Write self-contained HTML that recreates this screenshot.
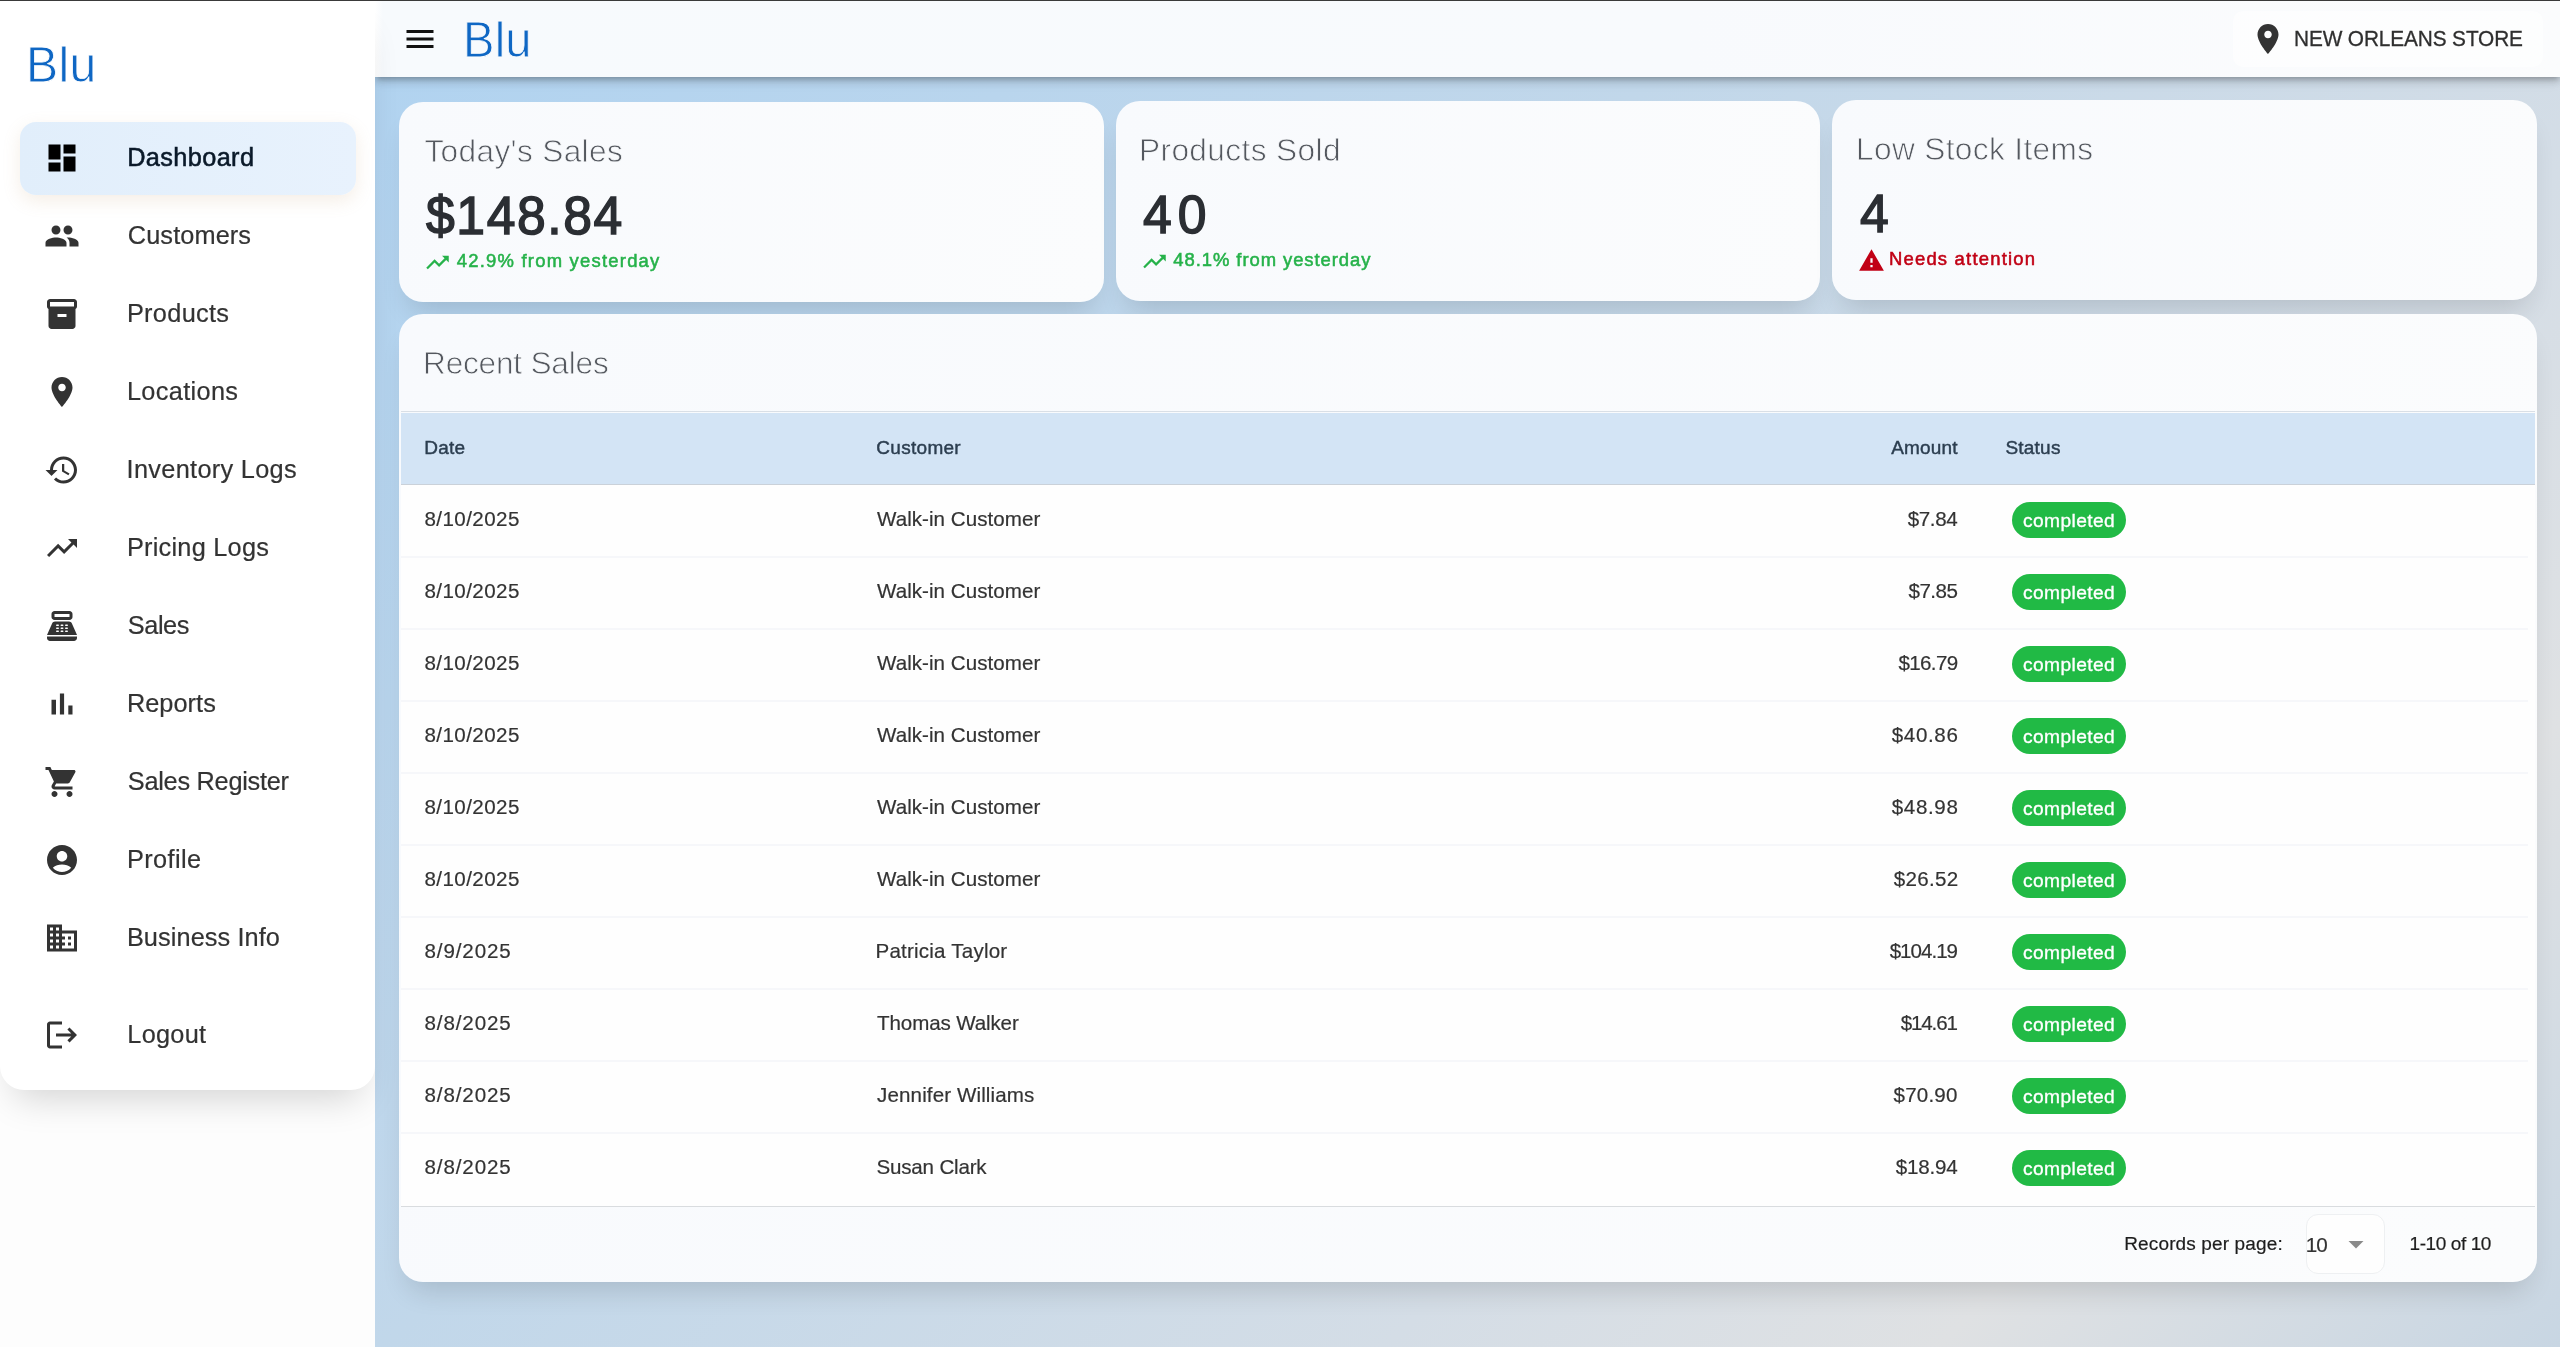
<!DOCTYPE html>
<html lang="en"><head><meta charset="utf-8"><title>Blu - Dashboard</title>
<style>
html,body{margin:0;padding:0}
body{width:2560px;height:1347px;overflow:hidden;position:relative;background:#fdfdfd;font-family:"Liberation Sans", sans-serif;}
.t{position:absolute;white-space:nowrap;line-height:1;font-family:"Liberation Sans", sans-serif;transform-origin:0 0;}
.i{position:absolute;display:block}
#txt{position:absolute;left:0;top:0;width:2560px;height:1347px;will-change:transform;}
.abs{position:absolute}
#main{left:375px;top:77px;width:2185px;height:1270px;background:linear-gradient(135deg,#b1d3f0 0%,#c1d7ea 37%,#d4dde6 66%,#dfe1e3 82%,#c8d6e3 100%);}
#appbar{left:375px;top:1px;width:2185px;height:76px;background:linear-gradient(90deg,#ffffff 0,#f7fafd 8px,#f8fafd 60%,#fbfcfd 100%);box-shadow:0 3px 5px -1.5px rgba(0,0,0,.2),0 5px 7px rgba(0,0,0,.12),0 1.5px 14px rgba(0,0,0,.10);}
#topline{left:0;top:0;width:2560px;height:1px;background:#3a3a3a;}
#side{left:0;top:1px;width:375px;height:1089px;background:#ffffff;border-radius:0 0 24px 24px;box-shadow:0 22px 36px -14px rgba(0,0,0,.17);}
#sel{left:20px;top:122px;width:335.5px;height:72.5px;border-radius:16px;background:linear-gradient(90deg,#e1eefb,#e8f2fd);box-shadow:0 6px 18px rgba(190,150,100,.16);}
#storebtn{left:2233px;top:11px;width:310px;height:56px;border-radius:10px;background:rgba(255,255,255,.55);}
.card{position:absolute;border-radius:24px;background:linear-gradient(100deg,#f8fafd,#fbfcfd);box-shadow:0 18px 28px -10px rgba(0,0,0,.14);}
#c1{left:399px;top:102px;width:705px;height:200px}
#c2{left:1116px;top:101px;width:704px;height:200px}
#c3{left:1832px;top:100px;width:705px;height:200px}
#rs{left:399px;top:314px;width:2138px;height:968px}
#thead{left:401px;top:413px;width:2134px;height:71px;background:#d3e4f5;}
#theadline{left:401px;top:411px;width:2134px;height:1px;background:#d9dfe6;}
#tbody{left:401px;top:484.5px;width:2134px;height:721px;background:#fefefe;}
#theadb{left:401px;top:484px;width:2134px;height:1px;background:#cad1d9;}
.sep{position:absolute;left:401px;width:2127px;height:1.5px;background:#f6f7fa}
#tfootline{left:401px;top:1205.5px;width:2134px;height:1px;background:#d9dcdf;}
.chip{position:absolute;left:2012px;width:114px;height:36px;border-radius:18px;background:#21ba45}
#sel10{left:2305.5px;top:1213.5px;width:79px;height:60px;border-radius:12px;background:#fefefe;border:1px solid #eef0f2;box-sizing:border-box}
</style></head><body>
<div class="abs" id="main"></div>
<div class="card" id="c1"></div><div class="card" id="c2"></div><div class="card" id="c3"></div>
<div class="card" id="rs"></div>
<div class="abs" id="theadline"></div><div class="abs" id="thead"></div><div class="abs" id="tbody"></div><div class="abs" id="theadb"></div>
<div class="sep" style="top:556px"></div><div class="sep" style="top:628px"></div><div class="sep" style="top:700px"></div><div class="sep" style="top:772px"></div><div class="sep" style="top:844px"></div><div class="sep" style="top:916px"></div><div class="sep" style="top:988px"></div><div class="sep" style="top:1060px"></div><div class="sep" style="top:1132px"></div>
<div class="abs" id="tfootline"></div>
<div class="chip" style="top:502px"></div><div class="chip" style="top:574px"></div><div class="chip" style="top:646px"></div><div class="chip" style="top:718px"></div><div class="chip" style="top:790px"></div><div class="chip" style="top:862px"></div><div class="chip" style="top:934px"></div><div class="chip" style="top:1006px"></div><div class="chip" style="top:1078px"></div><div class="chip" style="top:1150px"></div>
<div class="abs" id="sel10"></div>
<div class="abs" id="appbar"></div>
<div class="abs" id="storebtn"></div>
<div class="abs" id="side"></div>
<div class="abs" id="sel"></div>
<div class="abs" id="topline"></div>
<svg class="i" style="left:44.00px;top:140.00px;width:36px;height:36px" viewBox="0 0 24 24"><path fill="#000000" d="M3 13h8V3H3v10zm0 8h8v-6H3v6zm10 0h8V11h-8v10zm0-18v6h8V3h-8z"/></svg><svg class="i" style="left:44.00px;top:218.00px;width:36px;height:36px" viewBox="0 0 24 24"><path fill="#333333" d="M16 11c1.66 0 2.99-1.34 2.99-3S17.66 5 16 5c-1.66 0-3 1.34-3 3s1.34 3 3 3zm-8 0c1.66 0 2.99-1.34 2.99-3S9.66 5 8 5C6.34 5 5 6.34 5 8s1.34 3 3 3zm0 2c-2.33 0-7 1.17-7 3.5V19h14v-2.5c0-2.33-4.67-3.5-7-3.5zm8 0c-.29 0-.62.02-.97.05 1.16.84 1.97 1.97 1.97 3.45V19h6v-2.5c0-2.33-4.67-3.5-7-3.5z"/></svg><svg class="i" style="left:44.00px;top:296.00px;width:36px;height:36px" viewBox="0 0 24 24"><path fill="#333333" d="M20 2H4c-1 0-2 .9-2 2v3.01c0 .72.43 1.34 1 1.69V20c0 1.1 1.1 2 2 2h14c.9 0 2-.9 2-2V8.7c.57-.35 1-.97 1-1.69V4c0-1.1-1-2-2-2zm-5 12H9v-2h6v2zm5-7H4V4h16v3z"/></svg><svg class="i" style="left:44.00px;top:374.00px;width:36px;height:36px" viewBox="0 0 24 24"><path fill="#333333" d="M12 2C8.13 2 5 5.13 5 9c0 5.25 7 13 7 13s7-7.75 7-13c0-3.87-3.13-7-7-7zm0 9.5c-1.38 0-2.5-1.12-2.5-2.5s1.12-2.5 2.5-2.5 2.5 1.12 2.5 2.5-1.12 2.5-2.5 2.5z"/></svg><svg class="i" style="left:44.00px;top:452.00px;width:36px;height:36px" viewBox="0 0 24 24"><path fill="#333333" d="M13 3c-4.97 0-9 4.03-9 9H1l3.89 3.89.07.14L9 12H6c0-3.87 3.13-7 7-7s7 3.13 7 7-3.13 7-7 7c-1.93 0-3.68-.79-4.94-2.06l-1.42 1.42C8.27 19.99 10.51 21 13 21c4.97 0 9-4.03 9-9s-4.03-9-9-9zm-1 5v5l4.28 2.54.72-1.21-3.5-2.08V8H12z"/></svg><svg class="i" style="left:44.00px;top:530.00px;width:36px;height:36px" viewBox="0 0 24 24"><path fill="#333333" d="M16 6l2.29 2.29-4.88 4.88-4-4L2 16.59 3.41 18l6-6 4 4 6.3-6.29L22 12V6z"/></svg><svg class="i" style="left:44.00px;top:608.00px;width:36px;height:36px" viewBox="0 0 24 24"><path fill="#333333" d="M17 2H7c-1.1 0-2 .9-2 2v2c0 1.1.9 2 2 2h10c1.1 0 2-.9 2-2V4c0-1.1-.9-2-2-2zm0 4H7V4h10v2zm3 16H4c-1.1 0-2-.9-2-2v-1h20v1c0 1.1-.9 2-2 2zm-1.47-11.81C18.21 9.47 17.49 9 16.7 9H7.3c-.79 0-1.51.47-1.83 1.19L2 18h20l-3.47-7.81zM9.5 16h-1c-.28 0-.5-.22-.5-.5s.22-.5.5-.5h1c.28 0 .5.22.5.5s-.22.5-.5.5zm0-2h-1c-.28 0-.5-.22-.5-.5s.22-.5.5-.5h1c.28 0 .5.22.5.5s-.22.5-.5.5zm0-2h-1c-.28 0-.5-.22-.5-.5s.22-.5.5-.5h1c.28 0 .5.22.5.5s-.22.5-.5.5zm3 4h-1c-.28 0-.5-.22-.5-.5s.22-.5.5-.5h1c.28 0 .5.22.5.5s-.22.5-.5.5zm0-2h-1c-.28 0-.5-.22-.5-.5s.22-.5.5-.5h1c.28 0 .5.22.5.5s-.22.5-.5.5zm0-2h-1c-.28 0-.5-.22-.5-.5s.22-.5.5-.5h1c.28 0 .5.22.5.5s-.22.5-.5.5zm3 4h-1c-.28 0-.5-.22-.5-.5s.22-.5.5-.5h1c.28 0 .5.22.5.5s-.22.5-.5.5zm0-2h-1c-.28 0-.5-.22-.5-.5s.22-.5.5-.5h1c.28 0 .5.22.5.5s-.22.5-.5.5zm0-2h-1c-.28 0-.5-.22-.5-.5s.22-.5.5-.5h1c.28 0 .5.22.5.5s-.22.5-.5.5z"/></svg><svg class="i" style="left:44.00px;top:686.00px;width:36px;height:36px" viewBox="0 0 24 24"><path fill="#333333" d="M5 9.2h3V19H5zM10.6 5h2.8v14h-2.8zm5.6 8H19v6h-2.8z"/></svg><svg class="i" style="left:44.00px;top:764.00px;width:36px;height:36px" viewBox="0 0 24 24"><path fill="#333333" d="M7 18c-1.1 0-1.99.9-1.99 2S5.9 22 7 22s2-.9 2-2-.9-2-2-2zM1 2v2h2l3.6 7.59-1.35 2.45c-.16.28-.25.61-.25.96 0 1.1.9 2 2 2h12v-2H7.42c-.14 0-.25-.11-.25-.25l.03-.12.9-1.63h7.45c.75 0 1.41-.41 1.75-1.03l3.58-6.49c.08-.14.12-.31.12-.48 0-.55-.45-1-1-1H5.21l-.94-2H1zm16 16c-1.1 0-1.99.9-1.99 2s.89 2 1.99 2 2-.9 2-2-.9-2-2-2z"/></svg><svg class="i" style="left:44.00px;top:842.00px;width:36px;height:36px" viewBox="0 0 24 24"><path fill="#333333" d="M12 2C6.48 2 2 6.48 2 12s4.48 10 10 10 10-4.48 10-10S17.52 2 12 2zm0 4c1.93 0 3.5 1.57 3.5 3.5S13.93 13 12 13s-3.5-1.57-3.5-3.5S10.07 6 12 6zm0 14c-2.03 0-4.43-.82-6.14-2.88C7.55 15.8 9.68 15 12 15s4.45.8 6.14 2.12C16.43 19.18 14.03 20 12 20z"/></svg><svg class="i" style="left:44.00px;top:920.00px;width:36px;height:36px" viewBox="0 0 24 24"><path fill="#333333" d="M12 7V3H2v18h20V7H12zM6 19H4v-2h2v2zm0-4H4v-2h2v2zm0-4H4V9h2v2zm0-4H4V5h2v2zm4 12H8v-2h2v2zm0-4H8v-2h2v2zm0-4H8V9h2v2zm0-4H8V5h2v2zm10 12h-8v-2h2v-2h-2v-2h2v-2h-2V9h8v10zm-2-8h-2v2h2v-2zm0 4h-2v2h2v-2z"/></svg><svg class="i" style="left:44.00px;top:1017.00px;width:36px;height:36px" viewBox="0 0 24 24"><path fill="#333333" d="M17 7l-1.41 1.41L18.17 11H8v2h10.17l-2.58 2.58L17 17l5-5zM4 5h8V3H4c-1.1 0-2 .9-2 2v14c0 1.1.9 2 2 2h8v-2H4V5z"/></svg><svg class="i" style="left:401.50px;top:21.00px;width:36px;height:36px" viewBox="0 0 24 24"><path fill="#111111" d="M3 18h18v-2H3v2zm0-5h18v-2H3v2zm0-7v2h18V6H3z"/></svg><svg class="i" style="left:2249.70px;top:20.90px;width:36px;height:36px" viewBox="0 0 24 24"><path fill="#333333" d="M12 2C8.13 2 5 5.13 5 9c0 5.25 7 13 7 13s7-7.75 7-13c0-3.87-3.13-7-7-7zm0 9.5c-1.38 0-2.5-1.12-2.5-2.5s1.12-2.5 2.5-2.5 2.5 1.12 2.5 2.5-1.12 2.5-2.5 2.5z"/></svg><svg class="i" style="left:424.00px;top:248.80px;width:27px;height:27px" viewBox="0 0 24 24"><path fill="#26b24a" d="M16 6l2.29 2.29-4.88 4.88-4-4L2 16.59 3.41 18l6-6 4 4 6.3-6.29L22 12V6z"/></svg><svg class="i" style="left:1140.80px;top:247.80px;width:27px;height:27px" viewBox="0 0 24 24"><path fill="#26b24a" d="M16 6l2.29 2.29-4.88 4.88-4-4L2 16.59 3.41 18l6-6 4 4 6.3-6.29L22 12V6z"/></svg><svg class="i" style="left:1857.50px;top:246.80px;width:27px;height:27px" viewBox="0 0 24 24"><path fill="#c10015" d="M1 21h22L12 2 1 21zm12-3h-2v-2h2v2zm0-4h-2v-4h2v4z"/></svg><svg class="i" style="left:2337.70px;top:1225.60px;width:36px;height:36px" viewBox="0 0 24 24"><path fill="#8a8a8a" d="M7 10l5 5 5-5z"/></svg>
<div id="txt">
<span class="t" id="sb_blu" style="left:25.50px;top:40.03px;font-size:50.64px;color:#0f67c4;letter-spacing:0.395px;-webkit-text-stroke:0.8px #ffffff;transform:scaleX(0.95);">Blu</span>
<span class="t" id="nav0" style="left:127.20px;top:145.08px;font-size:25.32px;color:#0a1929;letter-spacing:0.371px;-webkit-text-stroke:0.55px #0a1929;">Dashboard</span>
<span class="t" id="nav1" style="left:127.80px;top:222.93px;font-size:25.32px;color:#333333;letter-spacing:0.105px;-webkit-text-stroke:0.2px #333333;">Customers</span>
<span class="t" id="nav2" style="left:126.90px;top:300.93px;font-size:25.32px;color:#333333;letter-spacing:0.317px;-webkit-text-stroke:0.2px #333333;">Products</span>
<span class="t" id="nav3" style="left:126.90px;top:378.93px;font-size:25.32px;color:#333333;letter-spacing:0.345px;-webkit-text-stroke:0.2px #333333;">Locations</span>
<span class="t" id="nav4" style="left:126.60px;top:456.93px;font-size:25.32px;color:#333333;letter-spacing:0.307px;-webkit-text-stroke:0.2px #333333;">Inventory Logs</span>
<span class="t" id="nav5" style="left:126.90px;top:534.93px;font-size:25.32px;color:#333333;letter-spacing:0.245px;-webkit-text-stroke:0.2px #333333;">Pricing Logs</span>
<span class="t" id="nav6" style="left:127.80px;top:612.93px;font-size:25.32px;color:#333333;letter-spacing:-0.427px;-webkit-text-stroke:0.2px #333333;">Sales</span>
<span class="t" id="nav7" style="left:126.90px;top:690.93px;font-size:25.32px;color:#333333;letter-spacing:0.050px;-webkit-text-stroke:0.2px #333333;">Reports</span>
<span class="t" id="nav8" style="left:127.80px;top:768.93px;font-size:25.32px;color:#333333;letter-spacing:-0.265px;-webkit-text-stroke:0.2px #333333;">Sales Register</span>
<span class="t" id="nav9" style="left:126.90px;top:846.93px;font-size:25.32px;color:#333333;letter-spacing:0.400px;-webkit-text-stroke:0.2px #333333;">Profile</span>
<span class="t" id="nav10" style="left:126.90px;top:924.93px;font-size:25.32px;color:#333333;letter-spacing:0.085px;-webkit-text-stroke:0.2px #333333;">Business Info</span>
<span class="t" id="nav_logout" style="left:127.29px;top:1022.23px;font-size:25.32px;color:#333333;letter-spacing:0.270px;-webkit-text-stroke:0.2px #333333;">Logout</span>
<span class="t" id="ab_blu" style="left:462.50px;top:15.91px;font-size:49.58px;color:#0f67c4;letter-spacing:0.237px;-webkit-text-stroke:0.8px #f9fbfd;transform:scaleX(0.95);">Blu</span>
<span class="t" id="ab_store" style="left:2293.83px;top:27.98px;font-size:22.15px;color:#2f2f2f;letter-spacing:-0.130px;-webkit-text-stroke:0.3px #2f2f2f;transform:scaleX(0.94);">NEW ORLEANS STORE</span>
<span class="t" id="c1_title" style="left:424.45px;top:135.66px;font-size:31.65px;color:#54585f;letter-spacing:0.338px;-webkit-text-stroke:0.8px #f9fbfd;">Today's Sales</span>
<span class="t" id="c2_title" style="left:1139.00px;top:134.66px;font-size:31.65px;color:#54585f;letter-spacing:0.375px;-webkit-text-stroke:0.8px #f9fbfd;">Products Sold</span>
<span class="t" id="c3_title" style="left:1856.00px;top:133.66px;font-size:31.65px;color:#54585f;letter-spacing:0.354px;-webkit-text-stroke:0.8px #f9fbfd;">Low Stock Items</span>
<span class="t" id="c1_val" style="left:426.48px;top:189.06px;font-size:53.8px;color:#2b2e33;letter-spacing:1.663px;-webkit-text-stroke:1.5px #2b2e33;transform:scaleX(0.96);">$148.84</span>
<span class="t" id="c2_val" style="left:1142.60px;top:188.24px;font-size:53.8px;color:#2b2e33;letter-spacing:6.371px;-webkit-text-stroke:1.5px #2b2e33;transform:scaleX(0.96);">40</span>
<span class="t" id="c3_val" style="left:1859.55px;top:186.89px;font-size:53.8px;color:#2b2e33;letter-spacing:0.000px;-webkit-text-stroke:1.5px #2b2e33;transform:scaleX(0.96);">4</span>
<span class="t" id="c1_sub" style="left:456.72px;top:252.32px;font-size:18.46px;color:#26b24a;letter-spacing:1.224px;-webkit-text-stroke:0.55px #26b24a;">42.9% from yesterday</span>
<span class="t" id="c2_sub" style="left:1173.35px;top:251.32px;font-size:18.46px;color:#26b24a;letter-spacing:0.932px;-webkit-text-stroke:0.55px #26b24a;">48.1% from yesterday</span>
<span class="t" id="c3_sub" style="left:1888.95px;top:250.32px;font-size:18.46px;color:#c10015;letter-spacing:1.211px;-webkit-text-stroke:0.55px #c10015;">Needs attention</span>
<span class="t" id="rs_title" style="left:423.00px;top:348.11px;font-size:31.65px;color:#54585f;letter-spacing:-0.224px;-webkit-text-stroke:0.8px #f9fbfd;">Recent Sales</span>
<span class="t" id="h_date" style="left:424.19px;top:438.44px;font-size:18.99px;color:#2c3e50;letter-spacing:0.280px;-webkit-text-stroke:0.45px #2c3e50;">Date</span>
<span class="t" id="h_cust" style="left:876.36px;top:438.44px;font-size:18.99px;color:#2c3e50;letter-spacing:0.287px;-webkit-text-stroke:0.45px #2c3e50;">Customer</span>
<span class="t" id="h_amt" style="left:1891.30px;top:438.44px;font-size:18.99px;color:#2c3e50;letter-spacing:0.150px;-webkit-text-stroke:0.45px #2c3e50;">Amount</span>
<span class="t" id="h_stat" style="left:2005.40px;top:438.44px;font-size:18.99px;color:#2c3e50;letter-spacing:0.240px;-webkit-text-stroke:0.45px #2c3e50;">Status</span>
<span class="t" id="r0_d" style="left:424.49px;top:509.18px;font-size:20.57px;color:#333333;letter-spacing:0.428px;-webkit-text-stroke:0.2px #333333;">8/10/2025</span>
<span class="t" id="r0_c" style="left:876.96px;top:509.18px;font-size:20.57px;color:#333333;letter-spacing:0.048px;-webkit-text-stroke:0.2px #333333;">Walk-in Customer</span>
<span class="t" id="r0_a" style="left:1907.70px;top:509.18px;font-size:20.57px;color:#333333;letter-spacing:-0.375px;-webkit-text-stroke:0.2px #333333;">$7.84</span>
<span class="t" id="r0_s" style="left:2023.08px;top:510.85px;font-size:19.2px;color:#ffffff;letter-spacing:0.375px;-webkit-text-stroke:0.35px #ffffff;">completed</span>
<span class="t" id="r1_d" style="left:424.49px;top:581.18px;font-size:20.57px;color:#333333;letter-spacing:0.428px;-webkit-text-stroke:0.2px #333333;">8/10/2025</span>
<span class="t" id="r1_c" style="left:876.96px;top:581.18px;font-size:20.57px;color:#333333;letter-spacing:0.048px;-webkit-text-stroke:0.2px #333333;">Walk-in Customer</span>
<span class="t" id="r1_a" style="left:1908.50px;top:581.18px;font-size:20.57px;color:#333333;letter-spacing:-0.525px;-webkit-text-stroke:0.2px #333333;">$7.85</span>
<span class="t" id="r1_s" style="left:2023.08px;top:582.85px;font-size:19.2px;color:#ffffff;letter-spacing:0.375px;-webkit-text-stroke:0.35px #ffffff;">completed</span>
<span class="t" id="r2_d" style="left:424.49px;top:653.18px;font-size:20.57px;color:#333333;letter-spacing:0.428px;-webkit-text-stroke:0.2px #333333;">8/10/2025</span>
<span class="t" id="r2_c" style="left:876.96px;top:653.18px;font-size:20.57px;color:#333333;letter-spacing:0.048px;-webkit-text-stroke:0.2px #333333;">Walk-in Customer</span>
<span class="t" id="r2_a" style="left:1898.50px;top:653.18px;font-size:20.57px;color:#333333;letter-spacing:-0.660px;-webkit-text-stroke:0.2px #333333;">$16.79</span>
<span class="t" id="r2_s" style="left:2023.08px;top:654.85px;font-size:19.2px;color:#ffffff;letter-spacing:0.375px;-webkit-text-stroke:0.35px #ffffff;">completed</span>
<span class="t" id="r3_d" style="left:424.49px;top:725.18px;font-size:20.57px;color:#333333;letter-spacing:0.428px;-webkit-text-stroke:0.2px #333333;">8/10/2025</span>
<span class="t" id="r3_c" style="left:876.96px;top:725.18px;font-size:20.57px;color:#333333;letter-spacing:0.048px;-webkit-text-stroke:0.2px #333333;">Walk-in Customer</span>
<span class="t" id="r3_a" style="left:1891.70px;top:725.18px;font-size:20.57px;color:#333333;letter-spacing:0.660px;-webkit-text-stroke:0.2px #333333;">$40.86</span>
<span class="t" id="r3_s" style="left:2023.08px;top:726.85px;font-size:19.2px;color:#ffffff;letter-spacing:0.375px;-webkit-text-stroke:0.35px #ffffff;">completed</span>
<span class="t" id="r4_d" style="left:424.49px;top:797.18px;font-size:20.57px;color:#333333;letter-spacing:0.428px;-webkit-text-stroke:0.2px #333333;">8/10/2025</span>
<span class="t" id="r4_c" style="left:876.96px;top:797.18px;font-size:20.57px;color:#333333;letter-spacing:0.048px;-webkit-text-stroke:0.2px #333333;">Walk-in Customer</span>
<span class="t" id="r4_a" style="left:1891.70px;top:797.18px;font-size:20.57px;color:#333333;letter-spacing:0.660px;-webkit-text-stroke:0.2px #333333;">$48.98</span>
<span class="t" id="r4_s" style="left:2023.08px;top:798.85px;font-size:19.2px;color:#ffffff;letter-spacing:0.375px;-webkit-text-stroke:0.35px #ffffff;">completed</span>
<span class="t" id="r5_d" style="left:424.49px;top:869.18px;font-size:20.57px;color:#333333;letter-spacing:0.428px;-webkit-text-stroke:0.2px #333333;">8/10/2025</span>
<span class="t" id="r5_c" style="left:876.96px;top:869.18px;font-size:20.57px;color:#333333;letter-spacing:0.048px;-webkit-text-stroke:0.2px #333333;">Walk-in Customer</span>
<span class="t" id="r5_a" style="left:1893.70px;top:869.18px;font-size:20.57px;color:#333333;letter-spacing:0.300px;-webkit-text-stroke:0.2px #333333;">$26.52</span>
<span class="t" id="r5_s" style="left:2023.08px;top:870.85px;font-size:19.2px;color:#ffffff;letter-spacing:0.375px;-webkit-text-stroke:0.35px #ffffff;">completed</span>
<span class="t" id="r6_d" style="left:424.49px;top:941.18px;font-size:20.57px;color:#333333;letter-spacing:0.887px;-webkit-text-stroke:0.2px #333333;">8/9/2025</span>
<span class="t" id="r6_c" style="left:875.46px;top:941.18px;font-size:20.57px;color:#333333;letter-spacing:0.210px;-webkit-text-stroke:0.2px #333333;">Patricia Taylor</span>
<span class="t" id="r6_a" style="left:1889.70px;top:941.18px;font-size:20.57px;color:#333333;letter-spacing:-1.000px;-webkit-text-stroke:0.2px #333333;">$104.19</span>
<span class="t" id="r6_s" style="left:2023.08px;top:942.85px;font-size:19.2px;color:#ffffff;letter-spacing:0.375px;-webkit-text-stroke:0.35px #ffffff;">completed</span>
<span class="t" id="r7_d" style="left:424.49px;top:1013.18px;font-size:20.57px;color:#333333;letter-spacing:0.887px;-webkit-text-stroke:0.2px #333333;">8/8/2025</span>
<span class="t" id="r7_c" style="left:877.11px;top:1013.43px;font-size:20.57px;color:#333333;letter-spacing:-0.130px;-webkit-text-stroke:0.2px #333333;">Thomas Walker</span>
<span class="t" id="r7_a" style="left:1900.70px;top:1013.18px;font-size:20.57px;color:#333333;letter-spacing:-1.140px;-webkit-text-stroke:0.2px #333333;">$14.61</span>
<span class="t" id="r7_s" style="left:2023.08px;top:1014.85px;font-size:19.2px;color:#ffffff;letter-spacing:0.375px;-webkit-text-stroke:0.35px #ffffff;">completed</span>
<span class="t" id="r8_d" style="left:424.49px;top:1085.18px;font-size:20.57px;color:#333333;letter-spacing:0.887px;-webkit-text-stroke:0.2px #333333;">8/8/2025</span>
<span class="t" id="r8_c" style="left:877.11px;top:1085.43px;font-size:20.57px;color:#333333;letter-spacing:0.109px;-webkit-text-stroke:0.2px #333333;">Jennifer Williams</span>
<span class="t" id="r8_a" style="left:1893.50px;top:1085.18px;font-size:20.57px;color:#333333;letter-spacing:0.210px;-webkit-text-stroke:0.2px #333333;">$70.90</span>
<span class="t" id="r8_s" style="left:2023.08px;top:1086.85px;font-size:19.2px;color:#ffffff;letter-spacing:0.375px;-webkit-text-stroke:0.35px #ffffff;">completed</span>
<span class="t" id="r9_d" style="left:424.49px;top:1157.18px;font-size:20.57px;color:#333333;letter-spacing:0.887px;-webkit-text-stroke:0.2px #333333;">8/8/2025</span>
<span class="t" id="r9_c" style="left:876.51px;top:1157.18px;font-size:20.57px;color:#333333;letter-spacing:-0.186px;-webkit-text-stroke:0.2px #333333;">Susan Clark</span>
<span class="t" id="r9_a" style="left:1895.70px;top:1157.18px;font-size:20.57px;color:#333333;letter-spacing:-0.180px;-webkit-text-stroke:0.2px #333333;">$18.94</span>
<span class="t" id="r9_s" style="left:2023.08px;top:1158.85px;font-size:19.2px;color:#ffffff;letter-spacing:0.375px;-webkit-text-stroke:0.35px #ffffff;">completed</span>
<span class="t" id="f_rpp" style="left:2124.28px;top:1233.51px;font-size:18.99px;color:#1d1d1d;letter-spacing:0.139px;-webkit-text-stroke:0.2px #1d1d1d;">Records per page:</span>
<span class="t" id="f_10" style="left:2305.65px;top:1235.28px;font-size:20.68px;color:#333333;letter-spacing:-0.800px;-webkit-text-stroke:0.2px #333333;">10</span>
<span class="t" id="f_range" style="left:2409.54px;top:1233.51px;font-size:18.99px;color:#1d1d1d;letter-spacing:-0.410px;-webkit-text-stroke:0.2px #1d1d1d;">1-10 of 10</span>
</div>
</body></html>
